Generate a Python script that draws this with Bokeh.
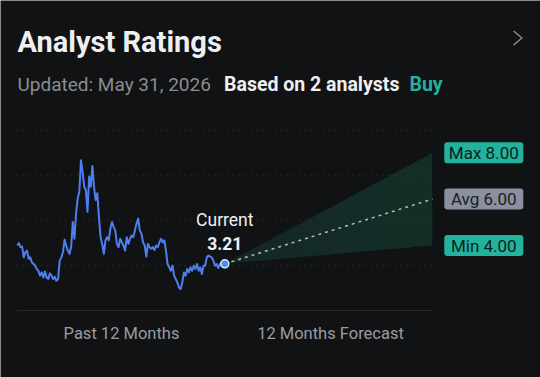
import numpy as np
from bokeh.plotting import figure
from bokeh.models import Range1d, ColumnDataSource
from bokeh.core.properties import value
from bokeh.embed import file_html
from bokeh.resources import INLINE

# ---- data -------------------------------------------------------------
# Daily closing prices over the past 12 months (oldest first, USD)
past_prices = [
    4.00, 4.10, 3.93, 3.96, 3.49, 3.71, 3.78, 3.43, 3.49, 3.27,
    3.20, 3.13, 2.99, 2.91, 2.70, 2.84, 2.62, 2.88, 2.62, 2.55,
    2.80, 2.70, 2.55, 2.65, 2.48, 2.55, 3.35, 3.49, 3.71, 4.25,
    4.00, 3.78, 3.64, 3.93, 5.01, 4.29, 5.38, 6.03, 6.32, 7.67,
    7.17, 6.53, 6.39, 5.45, 6.97, 6.53, 7.43, 6.53, 5.96, 6.25,
    5.23, 4.36, 4.07, 3.64, 4.22, 4.36, 4.22, 4.73, 5.01, 4.80,
    4.65, 4.07, 3.93, 4.29, 4.14, 4.00, 3.78, 4.36, 4.07, 4.29,
    4.43, 4.36, 4.65, 4.94, 5.16, 4.65, 4.51, 4.14, 4.00, 3.52,
    4.07, 3.93, 3.86, 3.93, 3.81, 4.00, 3.93, 4.14, 4.29, 4.14,
    4.22, 3.78, 3.20, 3.06, 2.91, 3.13, 2.70, 2.55, 2.40, 2.19,
    2.12, 2.40, 2.84, 2.70, 2.99, 2.84, 3.06, 2.91, 3.13, 2.99,
    3.20, 2.91, 3.06, 2.77, 3.13, 3.13, 3.49, 3.57, 3.52, 3.49,
    3.35, 3.13, 3.20, 3.03, 3.20, 3.13, 3.27, 3.21,
]
current_price = 3.21
target_labels = ["Max", "Avg", "Min"]
target_values = [8.00, 6.00, 4.00]
analyst_count = 2
consensus = "Buy"
updated_on = "May 31, 2026"
period_labels = ["Past 12 Months", "12 Months Forecast"]
forecast_months = 12

# ---- styling ----------------------------------------------------------
BG = "#111214"
WHITE = "#eeeff1"
GREY = "#8b8d91"
TEAL = "#22b29e"
AVG_BOX = "#8a90a0"
LINE_BLUE = "#4e7ff0"
FONT = value("Roboto")

# Scale: months along x, price along y; the frame fills the whole canvas
PX_PER_MONTH = 17.3
PX_PER_UNIT = 23.2
X_LEFT = -224.3 / PX_PER_MONTH
Y_TOP = 4.0 + 245.0 / PX_PER_UNIT
W, H = 540, 377


def sx(px):
    return X_LEFT + px / PX_PER_MONTH


def sy(py):
    return Y_TOP - py / PX_PER_UNIT


p = figure(
    width=W, height=H,
    x_range=Range1d(sx(0), sx(W)), y_range=Range1d(sy(H), sy(0)),
    x_axis_type=None, y_axis_type=None,
    output_backend="svg", toolbar_location=None,
    min_border=0, background_fill_color=BG, border_fill_color=BG,
    outline_line_color=None,
)

# ---- horizontal guides ------------------------------------------------
axis_floor, grid_step = 1.20, 1.94
grid_levels = [axis_floor + grid_step * k for k in range(1, 5)]
p.segment(x0=-12, x1=forecast_months, y0=grid_levels, y1=grid_levels,
          line_color="#2e3035", line_width=1.4, line_dash="1 5")
p.segment(x0=[-12], x1=[forecast_months], y0=[axis_floor], y1=[axis_floor],
          line_color="#2a2c30", line_width=1)

# ---- forecast fan -----------------------------------------------------
hi, avg, lo = target_values
fan_x = [0, forecast_months, forecast_months]
p.patch(fan_x, [current_price, hi, lo], fill_color="#183c34",
        fill_alpha=0.5, line_color=None)
steps = 8
for k in range(1, steps):
    t = k / steps
    xs = [forecast_months * t, forecast_months, forecast_months, forecast_months * t]
    ys = [current_price + (hi - current_price) * t, hi, lo,
          current_price + (lo - current_price) * t]
    p.patch(xs, ys, fill_color="#183c34", fill_alpha=0.08, line_color=None)

p.line([0, forecast_months], [current_price, avg], line_color="#b4b8c0",
       line_width=1.5, line_dash="3 4")

# ---- price history ----------------------------------------------------
months = np.linspace(-12, 0, len(past_prices))
p.line(months, past_prices, line_color=LINE_BLUE, line_width=2,
       line_join="round")
p.scatter([0], [current_price], size=8, fill_color="#4a8cf7",
          line_color="#dfe9ff", line_width=1.5)

p.text(x=[0], y=[sy(219)], text=["Current"], text_font=FONT,
       text_font_size="17.5px", text_color=WHITE, text_align="center",
       text_baseline="alphabetic")
p.text(x=[0], y=[sy(243)], text=[f"{current_price:.2f}"], text_font=FONT,
       text_font_size="17.5px", text_font_style="bold", text_color=WHITE,
       text_align="center", text_baseline="alphabetic")

# ---- target badges ----------------------------------------------------
badge_x = sx(483.3)
badges = ColumnDataSource(dict(
    x=[badge_x] * 3,
    y=target_values,
    text=[f"{n} {v:.2f}" for n, v in zip(target_labels, target_values)],
    fill=[TEAL, AVG_BOX, TEAL],
    ink=["#0d211d", "#1a1d24", "#0d211d"],
))
p.rect(x="x", y="y", width=79, height=21, width_units="screen",
       height_units="screen", fill_color="fill", line_color=None,
       border_radius=3, source=badges)
p.text(x="x", y="y", text="text", text_font=FONT, text_font_size="17px",
       text_color="ink", text_align="center", text_baseline="middle",
       source=badges)

# ---- header -----------------------------------------------------------
p.text(x=[sx(17)], y=[sy(41)], text=["Analyst Ratings"], text_font=FONT,
       text_font_size="29px", text_font_style="bold", text_color=WHITE,
       text_baseline="alphabetic")
p.line([sx(513), sx(521.5), sx(513)], [sy(30.5), sy(37.5), sy(44.5)],
       line_color=GREY, line_width=1.5)
p.text(x=[sx(17)], y=[sy(84)], text=[f"Updated: {updated_on}"], text_font=FONT,
       text_font_size="19px", text_color=GREY, text_baseline="alphabetic")
p.text(x=[sx(223.5)], y=[sy(84)], text=[f"Based on {analyst_count} analysts"],
       text_font=FONT, text_font_size="19.5px", text_font_style="bold",
       text_color=WHITE, text_baseline="alphabetic")
p.text(x=[sx(409)], y=[sy(84)], text=[consensus], text_font=FONT,
       text_font_size="19.5px", text_font_style="bold", text_color=TEAL,
       text_baseline="alphabetic")

# ---- period captions --------------------------------------------------
p.text(x=[sx(121), sx(330)], y=[sy(333)] * 2, text=period_labels,
       text_font=FONT, text_font_size="16.5px", text_color="#9a9ca0",
       text_align="center", text_baseline="alphabetic")

open("out.html", "w").write(file_html(p, INLINE))
